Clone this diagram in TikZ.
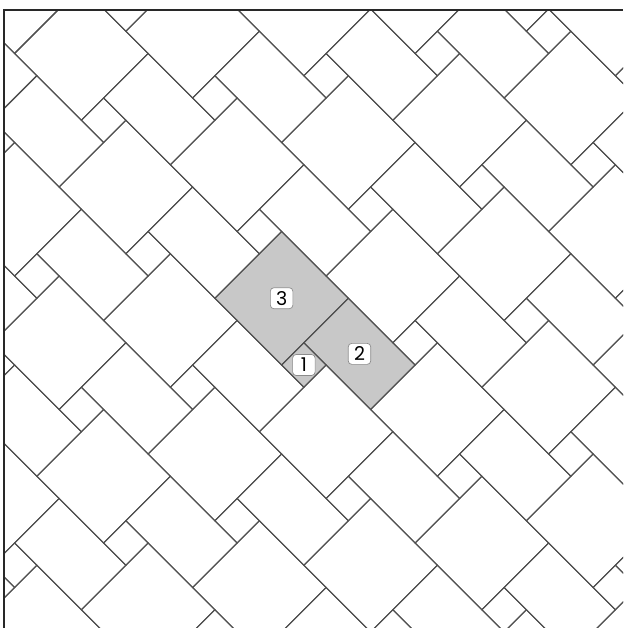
\documentclass[tikz,border=0pt]{standalone}
\usepackage{fontspec}
\usepackage{tikz}
\usepackage{xcolor}
\newfontfamily\labelfont{Poppins}
\definecolor{tilegray}{RGB}{200,200,200}
\definecolor{linegray}{RGB}{80,80,80}
\definecolor{framegray}{RGB}{40,40,40}
\definecolor{boxgray}{RGB}{140,140,140}

\begin{document}
\begin{tikzpicture}[x=1pt,y=1pt,
  tileline/.style={draw=linegray,line width=1.1pt},
  labelbox/.style={draw=boxgray,fill=white,line width=0.7pt,rounded corners=3.5pt,
    minimum width=22.5pt,minimum height=21pt,inner sep=0pt,
    font=\labelfont\fontsize{19}{19}\selectfont}]
  \useasboundingbox (0,0) rectangle (623,628);
  \begin{scope}
    \clip (4.3,0) rectangle (623,618.3);
    \begin{scope}[shift={(281.6,263)},rotate=-45,x=31.47pt,y=31.47pt]
      % marked tiles
      \fill[tilegray] (-3,0) rectangle (0,3);
      \fill[tilegray] (0,1) rectangle (3,3);
      \fill[tilegray] (0,0) rectangle (1,1);
      % repeated cell: big square, rectangle, small square
      \foreach \n in {-6,...,6}{
        \foreach \m in {-7,...,7}{
          \pgfmathtruncatemacro\dp{4*\n-2*\m}
          \pgfmathtruncatemacro\dq{-2*\n-3*\m}
          \draw[tileline] (\dp,\dq) ++(-3,0) rectangle ++(3,3);
          \draw[tileline] (\dp,\dq) ++(0,1) rectangle ++(3,2);
          \draw[tileline] (\dp,\dq) rectangle ++(1,1);
        }
      }
      \node[labelbox] (lab3) at (-1.5,1.5) {3};
      \node[labelbox] (lab2) at (1.5,2) {2};
      \node[labelbox] (lab1) at (0.5,0.5) {1};
    \end{scope}
  \end{scope}
  \draw[framegray,line width=2.2pt] (4.3,0) -- (4.3,618.3) -- (623,618.3);
\end{tikzpicture}
\end{document}
